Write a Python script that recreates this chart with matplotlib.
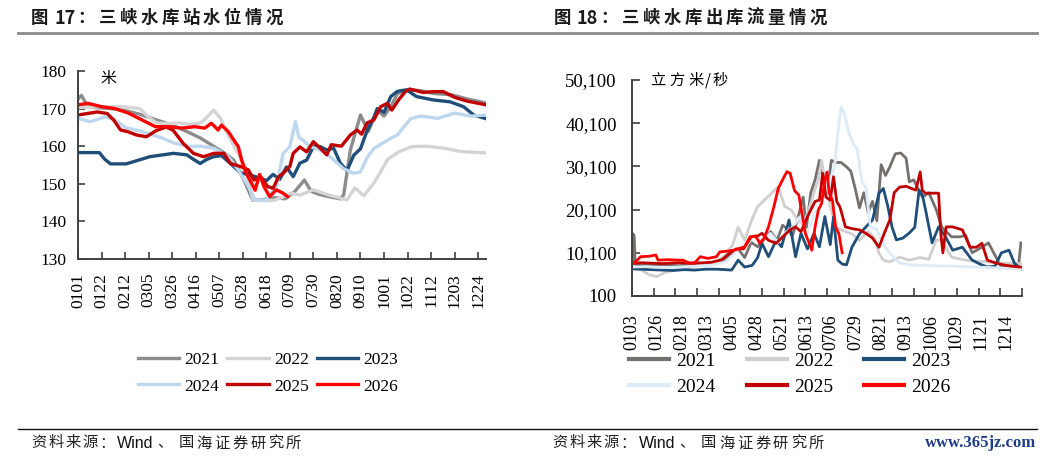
import matplotlib
matplotlib.use('Agg')
import matplotlib.pyplot as plt
from matplotlib.lines import Line2D

plt.rcParams['font.family'] = ['Liberation Serif', 'Noto Sans CJK SC']
CJK = 'Noto Sans CJK SC'

# ---------------- 数据：三峡水库站水位（米），横轴为一年中的第几天 ----------------
years = ['2021', '2022', '2023', '2024', '2025', '2026']

lvl_2021_d = [0, 3, 8, 14, 30, 42, 55, 70, 85, 100, 109, 121, 130, 139, 148, 156, 165, 175, 185, 193,
              202, 208, 215, 225, 234, 237, 243, 252, 259, 267, 273, 279, 285, 295, 305, 318, 333, 348, 364]
lvl_2021_v = [172.5, 173.5, 171, 170.3, 170, 169.5, 168.5, 167, 165.5, 163.5, 162.2, 160, 158.3, 156.3, 151,
              145.6, 145.8, 146.3, 146, 147.8, 151, 148, 147.2, 146.5, 146, 147, 159, 168.3, 163.9, 169.6,
              168, 170.5, 174, 175, 174.8, 174, 173.7, 172.5, 171.5]

lvl_2022_d = [0, 20, 40, 55, 62, 70, 80, 90, 100, 110, 116, 121, 127, 133, 141, 149, 156, 165, 175, 183,
              190, 198, 210, 225, 240, 247, 255, 264, 271, 276, 286, 298, 311, 326, 341, 364]
lvl_2022_v = [170.3, 170.5, 170.5, 170, 168, 166.2, 166, 166.2, 165.8, 166.3, 168, 169.6, 167.5, 163.5, 159,
              154.6, 145.7, 145.5, 145.6, 146.5, 147.5, 147, 148.4, 146.9, 145.7, 148.9, 146.8, 150.2, 153.7,
              156.4, 158.5, 159.9, 160, 159.5, 158.6, 158.2]

lvl_2023_d = [0, 19, 24, 29, 43, 64, 85, 97, 103, 109, 115, 121, 128, 139, 145, 152, 157, 163, 168, 174,
              180, 186, 192, 198, 204, 210, 216, 222, 228, 234, 240, 246, 252, 258, 264, 267, 273, 279, 285, 293,
              302, 317, 332, 344, 353, 363]
lvl_2023_v = [158.3, 158.3, 156.5, 155.3, 155.3, 157.2, 158.1, 157.7, 156.5, 155.4, 156.5, 157.2, 157.5, 154.6,
              152.9, 152.5, 152, 151.5, 150.8, 152.5, 151.2, 154.5, 151.9, 155.5, 156.3, 159.9, 159.9, 159,
              159.5, 155.5, 153.5, 157.6, 159.3, 164.2, 167.7, 170, 169, 173.2, 174.6, 175, 173.2, 172.3,
              171.8, 170.5, 168.3, 167.4]

lvl_2024_d = [0, 11, 24, 32, 42, 57, 75, 86, 98, 110, 122, 134, 143, 152, 158, 168, 177, 183, 189, 194,
              197, 201, 207, 216, 225, 237, 246, 252, 258, 264, 279, 285, 291, 297, 306, 321, 336, 351, 364]
lvl_2024_v = [167.4, 166.5, 167.8, 167.2, 165, 163.9, 162.2, 160.8, 160, 160, 159.4, 157.2, 153.7, 149.3,
              145.7, 145.7, 149.2, 158.1, 159.9, 166.5, 162.4, 161.5, 159.9, 159, 157.2, 154, 152.8, 153.2,
              157, 159.4, 162.1, 163, 165.2, 167.4, 168, 167.4, 168.8, 168, 168.3]

lvl_2025_d = [0, 17, 26, 32, 38, 44, 52, 61, 70, 79, 85, 94, 103, 112, 121, 130, 136, 145, 152, 157,
              163, 169, 174, 179, 183, 189, 192, 198, 204, 210, 216, 222, 226, 235, 243, 249, 253, 258, 264, 270,
              276, 280, 286, 292, 296, 308, 317, 326, 336, 347, 364]
lvl_2025_v = [168.3, 169.1, 168.7, 166.9, 164.3, 163.9, 163, 162.5, 164.2, 165.1, 164.2, 160.7, 158.1, 157.2,
              158.1, 158.1, 155.4, 154.6, 153.7, 151, 151.9, 149.3, 148.8, 151.9, 152.8, 154.6, 158.1, 159.8,
              158.5, 161.2, 159.5, 157.7, 160.4, 160, 163, 164.3, 163.2, 166.2, 167, 170.5, 171.4, 169.6,
              172.3, 174.5, 175.2, 174.3, 174.5, 174.5, 173, 172, 171]

lvl_2026_d = [0, 9, 21, 33, 45, 57, 69, 81, 93, 104, 113, 119, 125, 128, 134, 140, 143, 146, 150, 155,
              158, 162, 166, 171, 177, 183, 187]
lvl_2026_v = [171, 171.4, 170.5, 170, 168.8, 167, 165.2, 165.2, 164.8, 165.2, 164.8, 166.1, 164.3, 165.6,
              163.9, 161.2, 159.9, 156.3, 152.8, 150.1, 148.3, 152.5, 149.2, 146.6, 148.4, 147.5, 146.6]

lvl_ticks = ['0101', '0122', '0212', '0305', '0326', '0416', '0507', '0528', '0618', '0709',
             '0730', '0820', '0910', '1001', '1022', '1112', '1203', '1224']

# ---------------- 数据：三峡水库出库流量（立方米/秒） ----------------
flow_2021_d = [2, 3, 4, 5, 8, 20, 30, 45, 60, 75, 88, 95, 100, 106, 112, 118, 125, 130, 136, 141,
               146, 150, 155, 160, 163, 167, 171, 175, 178, 182, 186, 190, 195, 200, 204, 208, 212, 216, 220, 224,
               228, 232, 236, 240, 245, 250, 255, 258, 262, 266, 270, 276, 283, 288, 297, 305, 310, 316, 325, 331,
               338, 343, 352, 359, 361]
flow_2021_v = [7500, 14500, 14000, 7500, 7300, 7200, 7400, 7100, 7500, 7600, 8500, 10000, 11000, 9000, 12500,
               11500, 13500, 15000, 13000, 16500, 15500, 14000, 18000, 23000, 16000, 24000, 27000, 31500, 28000,
               24000, 31500, 31000, 31000, 30000, 29000, 25000, 20500, 24000, 19500, 22000, 17500, 30500, 28000,
               30000, 33000, 33200, 32000, 26500, 27000, 25000, 23000, 24000, 20000, 16000, 13800, 13800, 14200,
               10100, 11400, 12400, 9100, 6800, 7200, 7700, 12400]

flow_2022_d = [2, 10, 18, 25, 32, 40, 50, 60, 70, 80, 88, 95, 100, 106, 113, 118, 125, 131, 137, 143,
               149, 155, 160, 165, 170, 174, 177, 180, 184, 190, 196, 205, 212, 220, 226, 230, 234, 240, 249, 258,
               268, 276, 283, 288, 297, 310, 330, 345, 361]
flow_2022_v = [6500, 6200, 5000, 4600, 5500, 6000, 6500, 7000, 7500, 8000, 9500, 12000, 16000, 13000, 18000,
               20800, 22500, 23900, 25400, 20800, 20000, 17700, 16500, 20000, 24000, 27000, 31500, 27000, 22000,
               16000, 15300, 14500, 13000, 15000, 13500, 10000, 8400, 8000, 9100, 8400, 9000, 8600, 13100, 13000,
               9100, 8400, 8000, 7700, 7600]

flow_2023_d = [2, 10, 20, 30, 40, 50, 60, 70, 80, 88, 94, 100, 106, 113, 118, 122, 128, 135, 140, 147,
               153, 158, 164, 170, 175, 180, 185, 188, 192, 196, 200, 205, 212, 218, 224, 230, 234, 238, 242, 246,
               252, 258, 263, 267, 270, 273, 279, 285, 291, 298, 307, 316, 323, 330, 337, 343, 350, 355, 360, 362]
flow_2023_v = [6400, 6300, 6200, 6100, 6000, 6200, 6100, 6300, 6300, 6200, 6100, 8400, 6800, 7200, 9000,
               12300, 9200, 13000, 11500, 17700, 9200, 14600, 11000, 14600, 11500, 18500, 12000, 18400, 8400,
               7500, 7300, 11400, 14500, 16100, 17700, 23900, 25000, 21000, 16100, 13100, 13500, 14700, 16000,
               24600, 23500, 20000, 12400, 16100, 14000, 10700, 11400, 8400, 7500, 6800, 7000, 10100, 10700,
               7700, 6600, 6300]

flow_2024_d = [2, 15, 30, 45, 60, 75, 88, 95, 100, 108, 115, 122, 130, 137, 143, 150, 157, 163, 170, 176,
               180, 185, 189, 192, 195, 198, 202, 206, 210, 214, 218, 222, 228, 234, 240, 246, 250, 260, 280, 300,
               320, 340, 362]
flow_2024_v = [6800, 6900, 6700, 6800, 7000, 7200, 8000, 9500, 11000, 12000, 14000, 13000, 14600, 12500,
               14700, 16000, 18400, 14000, 19000, 21000, 23900, 27000, 30000, 37800, 43900, 42400, 38000, 35500,
               34000, 26900, 25000, 16100, 15500, 12000, 10000, 8400, 7700, 7300, 7100, 7000, 6800, 6600, 6400]

flow_2025_d = [2, 10, 20, 30, 45, 60, 75, 85, 92, 98, 105, 112, 118, 122, 128, 135, 142, 148, 153, 158,
               165, 171, 175, 178, 181, 185, 188, 191, 194, 199, 205, 212, 218, 224, 230, 235, 240, 244, 249, 255,
               260, 264, 268, 270, 273, 279, 285, 287, 289, 292, 298, 307, 314, 320, 325, 330, 337, 345, 352, 361]
flow_2025_v = [7600, 7800, 7700, 7600, 7800, 7700, 7900, 8500, 10000, 11000, 11000, 13800, 14000, 14600,
               13000, 12300, 14000, 15500, 16100, 15000, 19000, 22000, 22300, 28500, 23000, 22300, 27700, 22000,
               20700, 16100, 15700, 15400, 14600, 13500, 11400, 14700, 17700, 24000, 25300, 25500, 25000, 24600,
               28800, 24500, 23900, 23900, 23900, 14700, 10100, 16100, 16100, 15400, 11400, 11400, 12300, 8400,
               7800, 7300, 7000, 6800]

flow_2026_d = [2, 6, 10, 18, 24, 26, 35, 45, 49, 55, 60, 65, 72, 80, 83, 90, 96, 100, 106, 111,
               116, 120, 124, 128, 133, 137, 141, 145, 148, 152, 156, 162, 166, 168, 171, 174, 177, 180, 182, 184,
               187, 190, 193, 196]
flow_2026_v = [7600, 8200, 9200, 9300, 9600, 8400, 8500, 8400, 8400, 7700, 7800, 9200, 8800, 9200, 10300,
               10500, 10700, 11000, 11500, 13800, 14000, 12300, 13500, 16100, 20800, 25000, 27000, 28900, 28500,
               24500, 23500, 14600, 12000, 10700, 16100, 20000, 21500, 27000, 28800, 24000, 22300, 16100, 14500,
               10100]

flow_ticks = ['0103', '0126', '0218', '0313', '0405', '0428', '0521', '0613', '0706', '0729',
              '0821', '0913', '1006', '1029', '1121', '1214']

lvl_series = [(lvl_2021_d, lvl_2021_v), (lvl_2022_d, lvl_2022_v), (lvl_2023_d, lvl_2023_v),
              (lvl_2024_d, lvl_2024_v), (lvl_2025_d, lvl_2025_v), (lvl_2026_d, lvl_2026_v)]
flow_series = [(flow_2021_d, flow_2021_v), (flow_2022_d, flow_2022_v), (flow_2023_d, flow_2023_v),
               (flow_2024_d, flow_2024_v), (flow_2025_d, flow_2025_v), (flow_2026_d, flow_2026_v)]

lvl_colors = ['#8C8C8C', '#D4D4D4', '#1F4E79', '#BDD7EE', '#C00000', '#FF0000']
flow_colors = ['#767171', '#D0CECE', '#1F4E79', '#DDEBF7', '#C00000', '#FF0000']

# ---------------- 画布 ----------------
W, H = 1050, 463
fig = plt.figure(figsize=(W / 100, H / 100), dpi=100)


def fx(x):
    return x / W


def fy(y):
    return 1 - y / H


def put_chars(xs, y, chars, **kw):
    # 逐字放置，模拟原图的字间距
    for x, ch in zip(xs, chars):
        fig.text(fx(x), fy(y), ch, ha='left', va='center', **kw)


def style_axis(ax, ylab_size, xlab_size, tick_len):
    for s in ['top', 'right']:
        ax.spines[s].set_visible(False)
    for s in ['left', 'bottom']:
        ax.spines[s].set_color('#404040')
        ax.spines[s].set_linewidth(1.4)
    ax.tick_params(axis='both', which='both', direction='in', length=tick_len, width=1.2, color='#404040')
    ax.tick_params(axis='y', labelsize=ylab_size, pad=8)
    ax.tick_params(axis='x', which='both', labelsize=xlab_size, pad=10, labelrotation=90)


# ---------------- 左图：水位 ----------------
ax1 = fig.add_axes([fx(78), fy(259), fx(486) - fx(78), fy(71) - fy(259)])
lines1 = []
for (d, v), c, y in zip(lvl_series, lvl_colors, years):
    ln, = ax1.plot(d, v, color=c, lw=2.4, label=y, solid_joinstyle='round')
    lines1.append(ln)
ax1.set_xlim(0, 364)
ax1.set_ylim(130, 180)
ax1.set_yticks(range(130, 181, 10))
ax1.set_xticks([21 * i for i in range(len(lvl_ticks))], lvl_ticks)
style_axis(ax1, 12.5, 12.5, 5)
ax1.text(0.055, 0.96, '米', transform=ax1.transAxes, family=CJK, fontsize=11.5,
         ha='left', va='center')

# ---------------- 右图：出库流量 ----------------
ax2 = fig.add_axes([fx(632), fy(296), fx(1022) - fx(632), fy(80) - fy(296)])
lines2 = []
for (d, v), c, y in zip(flow_series, flow_colors, years):
    ln, = ax2.plot(d, v, color=c, lw=2.0, label=y)
    lines2.append(ln)
ax2.set_xlim(2, 362)
ax2.set_ylim(100, 50100)
yt = list(range(100, 50101, 10000))
ax2.set_yticks(yt, [f'{t:,}' for t in yt])
# 主刻度只画标签，次刻度只画刻度线（两者间隔不同）
ax2.xaxis.remove_overlapping_locs = False
ax2.set_xticks([2 + 23 * i for i in range(len(flow_ticks))], flow_ticks)
ax2.set_xticks([2 + 20 * i for i in range(19)], minor=True)
style_axis(ax2, 13.5, 13, 6)
ax2.tick_params(axis='y', pad=11)
ax2.tick_params(axis='x', which='major', length=0, pad=13)
put_chars([650, 669, 688, 705, 713], 81, '立方米/秒', family=CJK, fontsize=11)

# ---------------- 图例（按行排列：需重排顺序） ----------------
order = [0, 3, 1, 4, 2, 5]
fig.legend([lines1[i] for i in order], [years[i] for i in order], loc='center',
           bbox_to_anchor=(fx(268), fy(373)), ncol=3, frameon=False,
           prop={'family': 'Liberation Serif', 'size': 12.5}, handlelength=2.4,
           handletextpad=0.3, columnspacing=0.45, labelspacing=0.62, borderpad=0)
leg2 = fig.legend([lines2[i] for i in order], [years[i] for i in order], loc='center',
                  bbox_to_anchor=(fx(790), fy(374)), ncol=3, frameon=False,
                  prop={'family': 'Liberation Serif', 'size': 14}, handlelength=2.06,
                  handletextpad=0.36, columnspacing=1.6, labelspacing=0.42, borderpad=0)
for lh in leg2.get_lines():
    lh.set_linewidth(3)

# ---------------- 标题、分隔线、来源 ----------------
tkw = dict(family=CJK, fontsize=12.5, fontweight='bold', color='#1a1a1a')
put_chars([31], 18, '图', **tkw)
fig.text(fx(54), fy(18), '17', ha='left', va='center', family=CJK, fontsize=13,
         fontweight='bold', color='#1a1a1a')
put_chars([77], 18, '：', **tkw)
put_chars([99 + 20.8 * i for i in range(9)], 18, '三峡水库站水位情况', **tkw)

put_chars([554], 18, '图', **tkw)
fig.text(fx(577), fy(18), '18', ha='left', va='center', family=CJK, fontsize=13,
         fontweight='bold', color='#1a1a1a')
put_chars([600], 18, '：', **tkw)
put_chars([622 + 20.8 * i for i in range(10)], 18, '三峡水库出库流量情况', **tkw)

fig.add_artist(Line2D([fx(18), fx(1037)], [fy(33), fy(33)], transform=fig.transFigure,
                      color='#8a8a8a', lw=2))
fig.add_artist(Line2D([fx(18), fx(1037)], [fy(429), fy(429)], transform=fig.transFigure,
                      color='#111111', lw=1))

skw = dict(family=CJK, fontsize=11, color='#222222')
for x0, xw, xd, xg, step in [(31, 117, 157, 179, 17.8), (552, 639, 679, 701, 18)]:
    put_chars([x0 + 17.2 * i for i in range(5)], 443, '资料来源：', **skw)
    fig.text(fx(xw), fy(443), 'Wind', ha='left', va='center', family='Liberation Sans',
             fontsize=11.5, color='#111111')
    put_chars([xd], 443, '、', **skw)
    put_chars([xg + step * i for i in range(7)], 443, '国海证券研究所', **skw)

fig.text(fx(925), fy(443), 'www.365jz.com', ha='left', va='center', family='Liberation Serif',
         fontsize=12, fontweight='bold', color='#1F3C88')

fig.savefig('out.png', dpi=100)
plt.close(fig)
